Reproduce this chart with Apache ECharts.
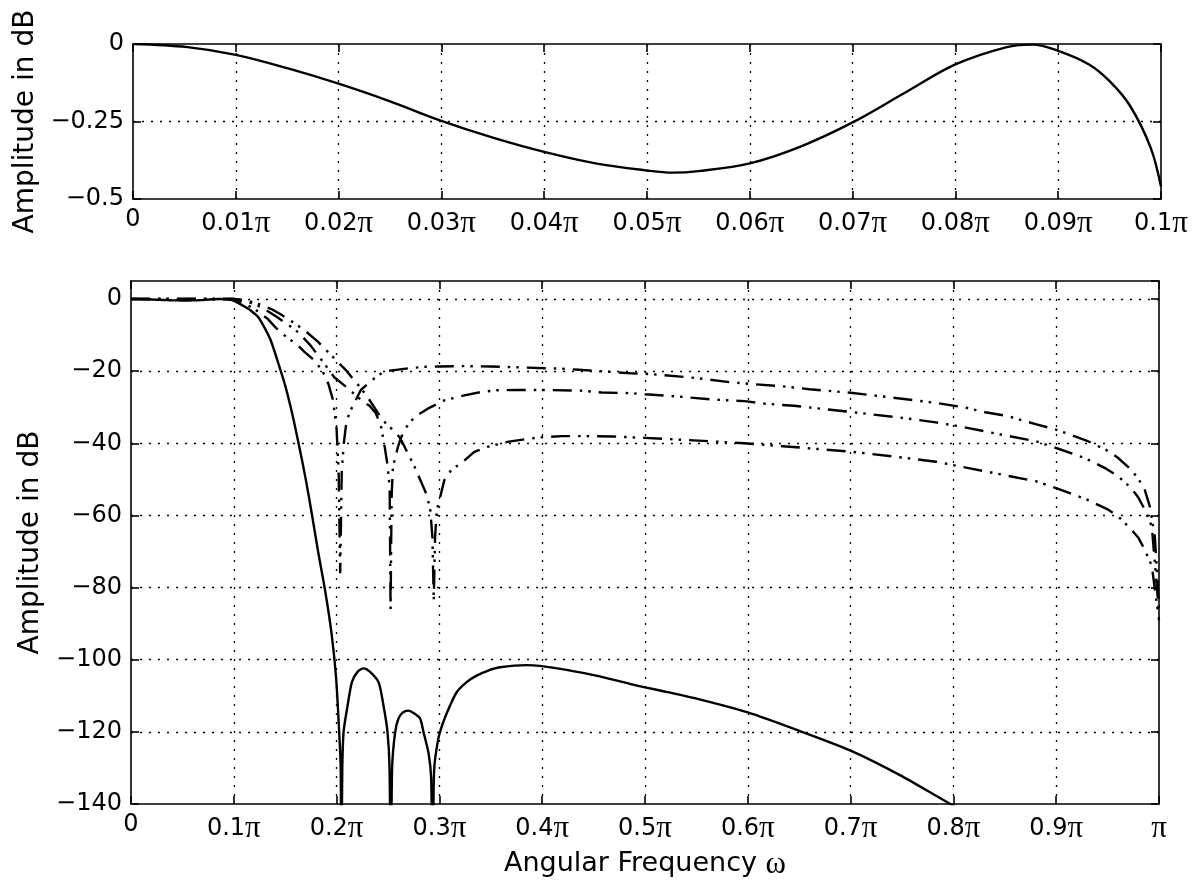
<!DOCTYPE html>
<html>
<head>
<meta charset="utf-8">
<script src="https://cdn.jsdelivr.net/npm/echarts@6/dist/echarts.min.js"></script>
<style>
  html, body { margin: 0; padding: 0; background: #fff; }
  #main { width: 1196px; height: 886px; }
</style>
</head>
<body>
<div id="main"></div>
<script>
// frequencies are in units of pi, amplitudes in dB

// passband detail (upper plot), also the start of the solid curve below
var passFreq = [0, 0.0053, 0.01, 0.015, 0.02, 0.025, 0.03, 0.035, 0.04, 0.045, 0.05, 0.0525, 0.055, 0.06, 0.065, 0.07, 0.075, 0.08, 0.085, 0.0875, 0.09, 0.093, 0.095, 0.097, 0.099, 0.1];
var passDb = [0, -0.01, -0.035, -0.078, -0.128, -0.185, -0.248, -0.302, -0.348, -0.385, -0.408, -0.415, -0.41, -0.385, -0.33, -0.253, -0.159, -0.066, -0.01, -0.002, -0.022, -0.066, -0.12, -0.2, -0.335, -0.46];

// solid curve, transition band and stopband
var stopFreq = [0.105, 0.11, 0.117, 0.124, 0.13, 0.136, 0.1435, 0.15, 0.157, 0.163, 0.17, 0.1758, 0.182, 0.1887, 0.195, 0.1995, 0.2025, 0.204, 0.2045, 0.2055, 0.2068, 0.2107, 0.2149, 0.2205, 0.2262, 0.232, 0.2408, 0.2456, 0.2495, 0.2515, 0.2527, 0.254, 0.257, 0.2602, 0.2645, 0.2699, 0.2755, 0.2812, 0.2845, 0.2895, 0.292, 0.2935, 0.2948, 0.299, 0.3039, 0.3104, 0.3168, 0.3265, 0.3362, 0.3475, 0.3589, 0.3848, 0.3977, 0.4236, 0.456, 0.4883, 0.5207, 0.553, 0.6, 0.65, 0.7, 0.748, 0.797, 0.85];
var stopDb = [-1.2, -2, -3.3, -5.1, -8, -11.5, -18, -24, -32, -40, -50, -59.4, -70, -80.6, -92.5, -105, -120, -130, -165, -131, -120, -112.7, -106.2, -103.3, -102.4, -103.2, -106.2, -112.7, -120, -130, -165, -130, -120, -116.3, -114.6, -114.1, -114.9, -116.3, -120, -126, -133, -165, -131, -121.8, -117.2, -112.7, -109, -106.2, -104.4, -103, -102.1, -101.5, -101.7, -102.8, -104.6, -106.9, -108.9, -111, -114.6, -119.7, -125.2, -132, -140, -148];

// dashed curve with the shallowest stopband (about -19 dB)
var aFreq = [0, 0.1, 0.105, 0.112, 0.12, 0.133, 0.141, 0.151, 0.1605, 0.169, 0.1775, 0.186, 0.192, 0.1965, 0.2, 0.202, 0.2035, 0.205, 0.207, 0.209, 0.2123, 0.2236, 0.2366, 0.246, 0.256, 0.27, 0.285, 0.3, 0.32, 0.35, 0.382, 0.419, 0.4355, 0.456, 0.487, 0.5, 0.535, 0.556, 0.584, 0.605, 0.634, 0.66, 0.7, 0.752, 0.783, 0.8135, 0.831, 0.852, 0.88, 0.9, 0.93, 0.949, 0.96, 0.973, 0.98, 0.986, 0.991, 0.996, 1.0];
var aDb = [0, 0, -0.5, -1.5, -2.7, -5.5, -8, -10.5, -12.4, -14.7, -16.8, -19.8, -23.5, -28, -36, -48, -76, -48, -40, -35.3, -31.6, -25.2, -22, -20.1, -19.7, -19.2, -18.8, -18.7, -18.6, -18.7, -19, -19.3, -19.6, -20, -20.6, -20.7, -21.5, -22.1, -23.1, -23.6, -24.2, -25, -26, -27.7, -28.8, -30.2, -31.4, -32.4, -34.7, -36.2, -39.3, -41.9, -44, -47.3, -49.9, -52.8, -57.4, -66, -85];

// dashed curve, stopband about -26 dB
var bFreq = [0, 0.1, 0.108, 0.115, 0.123, 0.132, 0.142, 0.152, 0.1605, 0.167, 0.175, 0.187, 0.1977, 0.209, 0.217, 0.226, 0.232, 0.238, 0.243, 0.2468, 0.2495, 0.2516, 0.2525, 0.2535, 0.2548, 0.2597, 0.2625, 0.268, 0.2758, 0.2887, 0.3048, 0.3242, 0.34, 0.356, 0.375, 0.4, 0.437, 0.458, 0.487, 0.5, 0.535, 0.568, 0.597, 0.616, 0.645, 0.7, 0.752, 0.783, 0.802, 0.831, 0.852, 0.88, 0.9, 0.928, 0.949, 0.96, 0.973, 0.98, 0.986, 0.993, 1.0];
var bDb = [0, 0, -0.3, -0.9, -1.8, -3.2, -5, -7, -8.7, -10.5, -13, -17.5, -21.7, -24.3, -26.3, -28.5, -29.6, -31.6, -35, -41, -46, -52, -86, -55, -46.5, -41, -38.5, -35.5, -32.7, -30.4, -28.1, -26.7, -25.8, -25.3, -25.2, -25.2, -25.4, -25.9, -26.1, -26.4, -27.1, -27.9, -28.3, -29, -29.6, -31.3, -33, -34.2, -35.1, -36.7, -37.9, -39.4, -41.3, -44.1, -47.1, -49.1, -52.4, -55.1, -58.3, -63, -87];

// dashed curve, stopband about -39 dB
var cFreq = [0, 0.1, 0.11, 0.12, 0.136, 0.146, 0.158, 0.169, 0.182, 0.19, 0.198, 0.209, 0.2155, 0.2236, 0.232, 0.24, 0.246, 0.2576, 0.262, 0.269, 0.2758, 0.2871, 0.291, 0.2932, 0.2945, 0.2958, 0.2975, 0.3, 0.3048, 0.3113, 0.3242, 0.3339, 0.3468, 0.3661, 0.385, 0.4, 0.419, 0.437, 0.469, 0.5, 0.535, 0.568, 0.597, 0.634, 0.7, 0.752, 0.783, 0.8135, 0.851, 0.88, 0.9, 0.93, 0.95, 0.96, 0.973, 0.98, 0.986, 0.993, 1.0];
var cDb = [0, 0, -0.3, -0.9, -2.7, -4.3, -6.5, -8.7, -11.9, -14.2, -16.5, -19.7, -22, -24.7, -28, -31.5, -33.9, -37.1, -38.6, -42.6, -46.5, -53.9, -58, -66, -83.5, -66, -58.5, -55.8, -50.2, -47.5, -44.8, -42.4, -41, -39.6, -38.8, -38.3, -38, -38, -38.1, -38.5, -39, -39.5, -40, -40.8, -42.3, -44, -45.1, -46.8, -48.9, -50.5, -52.4, -55.6, -58.3, -60.2, -63.9, -66.2, -69.4, -74, -89];

var LABEL_FONT = 'DejaVu Sans';
var PI_FONT = 'Liberation Serif';

function pairs(xs, ys) {
  return xs.map(function (x, i) { return [x, ys[i]]; });
}

function minusSign(v) {
  return String(v).replace('-', '\u2212');
}

function piLabel(v, digits) {
  var r = Math.round(v * Math.pow(10, digits)) / Math.pow(10, digits);
  if (r === 0) return '{n|0}';
  if (r === 1) return '{p|\u03c0}';
  return '{n|' + r + '}{p|\u03c0}';
}

var labelRich = {
  n: { fontFamily: LABEL_FONT, fontSize: 24, color: '#000' },
  p: { fontFamily: PI_FONT, fontSize: 31, color: '#000' }
};

var dotGrid = { show: true, showMinLine: false, showMaxLine: false, lineStyle: { color: '#000', type: [2, 7], width: 1.3 } };
var blackLine = { show: true, onZero: false, lineStyle: { color: '#000', width: 1.6 } };
var inTick = { show: true, inside: true, length: 8, lineStyle: { color: '#000', width: 1.6 } };

function xAxisPair(grid, max, interval, digits, withName) {
  var main = {
    type: 'value', gridIndex: grid, min: 0, max: max, interval: interval, position: 'bottom',
    axisLine: blackLine, axisTick: inTick, splitLine: dotGrid,
    axisLabel: {
      margin: 9, color: '#000', rich: labelRich,
      formatter: function (v) { return piLabel(v, digits); }
    }
  };
  if (withName) {
    main.name = '{t|Angular Frequency }{w|\u03c9}';
    main.nameLocation = 'middle';
    main.nameGap = 40;
    main.nameTextStyle = {
      rich: {
        t: { fontFamily: LABEL_FONT, fontSize: 27, color: '#000' },
        w: { fontFamily: PI_FONT, fontSize: 31, color: '#000' }
      }
    };
  }
  var top = {
    type: 'value', gridIndex: grid, min: 0, max: max, interval: interval, position: 'top',
    axisLine: blackLine, axisTick: inTick, splitLine: { show: false }, axisLabel: { show: false }
  };
  return [main, top];
}

function yAxisPair(grid, min, max, interval, gap) {
  var main = {
    type: 'value', gridIndex: grid, min: min, max: max, interval: interval, position: 'left',
    axisLine: blackLine, axisTick: inTick, splitLine: dotGrid,
    name: 'Amplitude in dB', nameLocation: 'middle', nameGap: gap,
    nameTextStyle: { fontFamily: LABEL_FONT, fontSize: 28, color: '#000' },
    axisLabel: {
      margin: 9, color: '#000', fontFamily: LABEL_FONT, fontSize: 24, showMaxLabel: max === 0,
      formatter: function (v) { return minusSign(v); }
    }
  };
  var right = {
    type: 'value', gridIndex: grid, min: min, max: max, interval: interval, position: 'right',
    axisLine: blackLine, axisTick: inTick, splitLine: { show: false }, axisLabel: { show: false }
  };
  return [main, right];
}

var dashDotDot = [19, 8, 2.5, 6, 2.5, 8];

function dashedSeries(xs, ys) {
  return {
    type: 'line', xAxisIndex: 2, yAxisIndex: 2, data: pairs(xs, ys),
    showSymbol: false, clip: true,
    lineStyle: { color: '#000', width: 2.4, type: dashDotDot }
  };
}

var chart = echarts.init(document.getElementById('main'), null, { renderer: 'canvas' });

chart.setOption({
  animation: false,
  backgroundColor: '#fff',
  grid: [
    { left: 133, right: 35, top: 44, height: 155, show: false },
    { left: 131, right: 37, top: 281, height: 523, show: false }
  ],
  xAxis: xAxisPair(0, 0.1, 0.01, 2, false).concat(xAxisPair(1, 1, 0.1, 1, true)),
  yAxis: yAxisPair(0, -0.5, 0, 0.25, 86).concat(yAxisPair(1, -140, 5, 20, 86)),
  series: [
    {
      type: 'line', xAxisIndex: 0, yAxisIndex: 0, data: pairs(passFreq, passDb),
      showSymbol: false, smooth: 0.35, clip: true,
      lineStyle: { color: '#000', width: 2.4 }
    },
    dashedSeries(aFreq, aDb),
    dashedSeries(bFreq, bDb),
    dashedSeries(cFreq, cDb),
    {
      type: 'line', xAxisIndex: 2, yAxisIndex: 2, data: pairs(passFreq.concat(stopFreq), passDb.concat(stopDb)),
      showSymbol: false, clip: true, smooth: 0.25,
      lineStyle: { color: '#000', width: 2.4 }
    }
  ]
});
</script>
</body>
</html>
